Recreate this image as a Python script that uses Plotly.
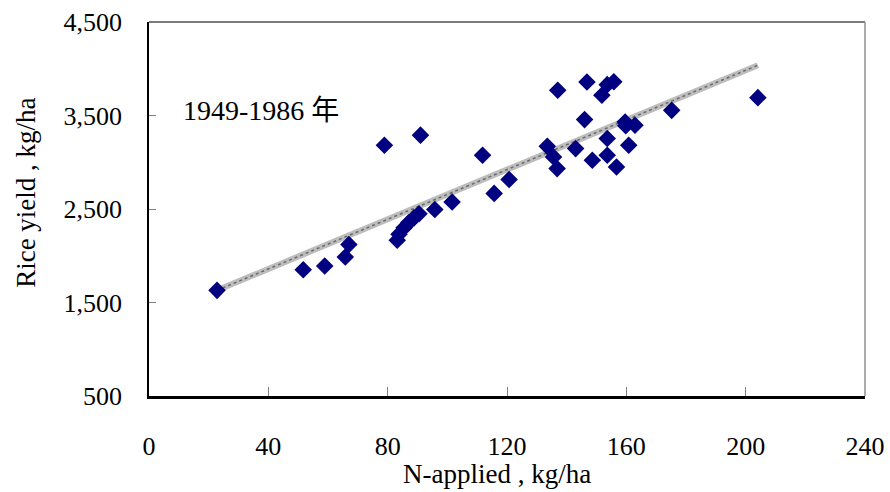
import numpy as np
import plotly.graph_objects as go

# N applied (kg/ha) and rice yield (kg/ha), 1949-1986
n_applied = [22.8, 51.7, 58.9, 65.8, 67.0, 78.9, 91.0, 83.2, 83.8, 85.5,
             87.1, 88.8, 90.5, 95.8, 101.6, 111.8, 115.7, 120.7, 133.5, 135.6,
             136.8, 137.0, 143.0, 146.0, 146.8, 148.6, 151.8, 153.6, 155.8, 153.6,
             153.6, 156.7, 159.6, 159.8, 162.9, 160.8, 175.2, 204.1]
rice_yield = [1630, 1851, 1890, 1987, 2120, 3181, 3290, 2165, 2230, 2300,
              2355, 2405, 2450, 2494, 2575, 3074, 2667, 2815, 3170, 3056,
              2932, 3770, 3146, 3456, 3858, 3021, 3716, 3830, 3860, 3253,
              3074, 2949, 3430, 3390, 3395, 3181, 3555, 3691]

x_ticks = [0, 40, 80, 120, 160, 200, 240]
y_ticks = [500, 1500, 2500, 3500, 4500]
annotation_text = "1949-1986 年"
x_title = "N-applied , kg/ha"
y_title = "Rice yield , kg/ha"

slope, intercept = np.polyfit(n_applied, rice_yield, 1)
tx = np.array([min(n_applied), max(n_applied)])
ty = slope * tx + intercept

FONT = "Liberation Serif, Times New Roman, Noto Sans CJK TC, serif"

fig = go.Figure()
fig.add_trace(go.Scatter(x=tx, y=ty, mode="lines",
                         line=dict(color="#bdbdbd", width=6), hoverinfo="skip",
                         showlegend=False))
fig.add_trace(go.Scatter(x=tx, y=ty, mode="lines",
                         line=dict(color="#6a6a6a", width=1.5, dash="dot"), hoverinfo="skip",
                         showlegend=False))
fig.add_trace(go.Scatter(x=n_applied, y=rice_yield, mode="markers",
                         marker=dict(symbol="diamond", size=13.5, color="#000080",
                                     line=dict(width=0)),
                         showlegend=False))

fig.add_annotation(x=0.0453, y=0.764, xref="paper", yref="paper", text=annotation_text,
                   showarrow=False, xanchor="left", yanchor="middle",
                   font=dict(family=FONT, size=28, color="black"))
fig.add_annotation(x=0.486, y=0, xref="paper", yref="paper", text=x_title,
                   showarrow=False, xanchor="center", yanchor="middle", yshift=-78,
                   font=dict(family=FONT, size=27, color="black"))
fig.add_annotation(x=-0.171, y=0.542, xref="paper", yref="paper", text=y_title,
                   showarrow=False, xanchor="center", yanchor="middle", textangle=-90,
                   font=dict(family=FONT, size=27, color="black"))

fig.update_layout(
    width=890, height=492,
    margin=dict(l=149, r=25, t=22, b=96, autoexpand=False),
    paper_bgcolor="white", plot_bgcolor="white",
    font=dict(family=FONT, size=26, color="black"),
    showlegend=False,
)
fig.update_xaxes(range=[0, 240], tickvals=x_ticks, ticks="inside", ticklen=9,
                 tickcolor="#808080", showgrid=False, zeroline=False,
                 showline=True, linecolor="black", linewidth=2.5, mirror=False,
                 ticklabelstandoff=25, ticklabeloverflow="allow", automargin=False)
fig.update_yaxes(range=[500, 4500], tickvals=y_ticks, tickformat=",d", ticks="inside",
                 ticklen=7, tickcolor="#808080", showgrid=False, zeroline=False,
                 showline=True, linecolor="black", linewidth=1.5,
                 ticklabelstandoff=20, ticklabeloverflow="allow", automargin=False)
# thin grey border on top and right
fig.add_shape(type="line", xref="paper", yref="paper", x0=0, x1=1, y0=1, y1=1,
              line=dict(color="#505050", width=1.5), layer="below")
fig.add_shape(type="line", xref="paper", yref="paper", x0=1, x1=1, y0=0, y1=1,
              line=dict(color="#909090", width=1.5), layer="below")

fig.write_html("out.html", config={"displayModeBar": False},
               post_script="document.body.style.margin='0px';document.body.style.overflow='hidden';")
